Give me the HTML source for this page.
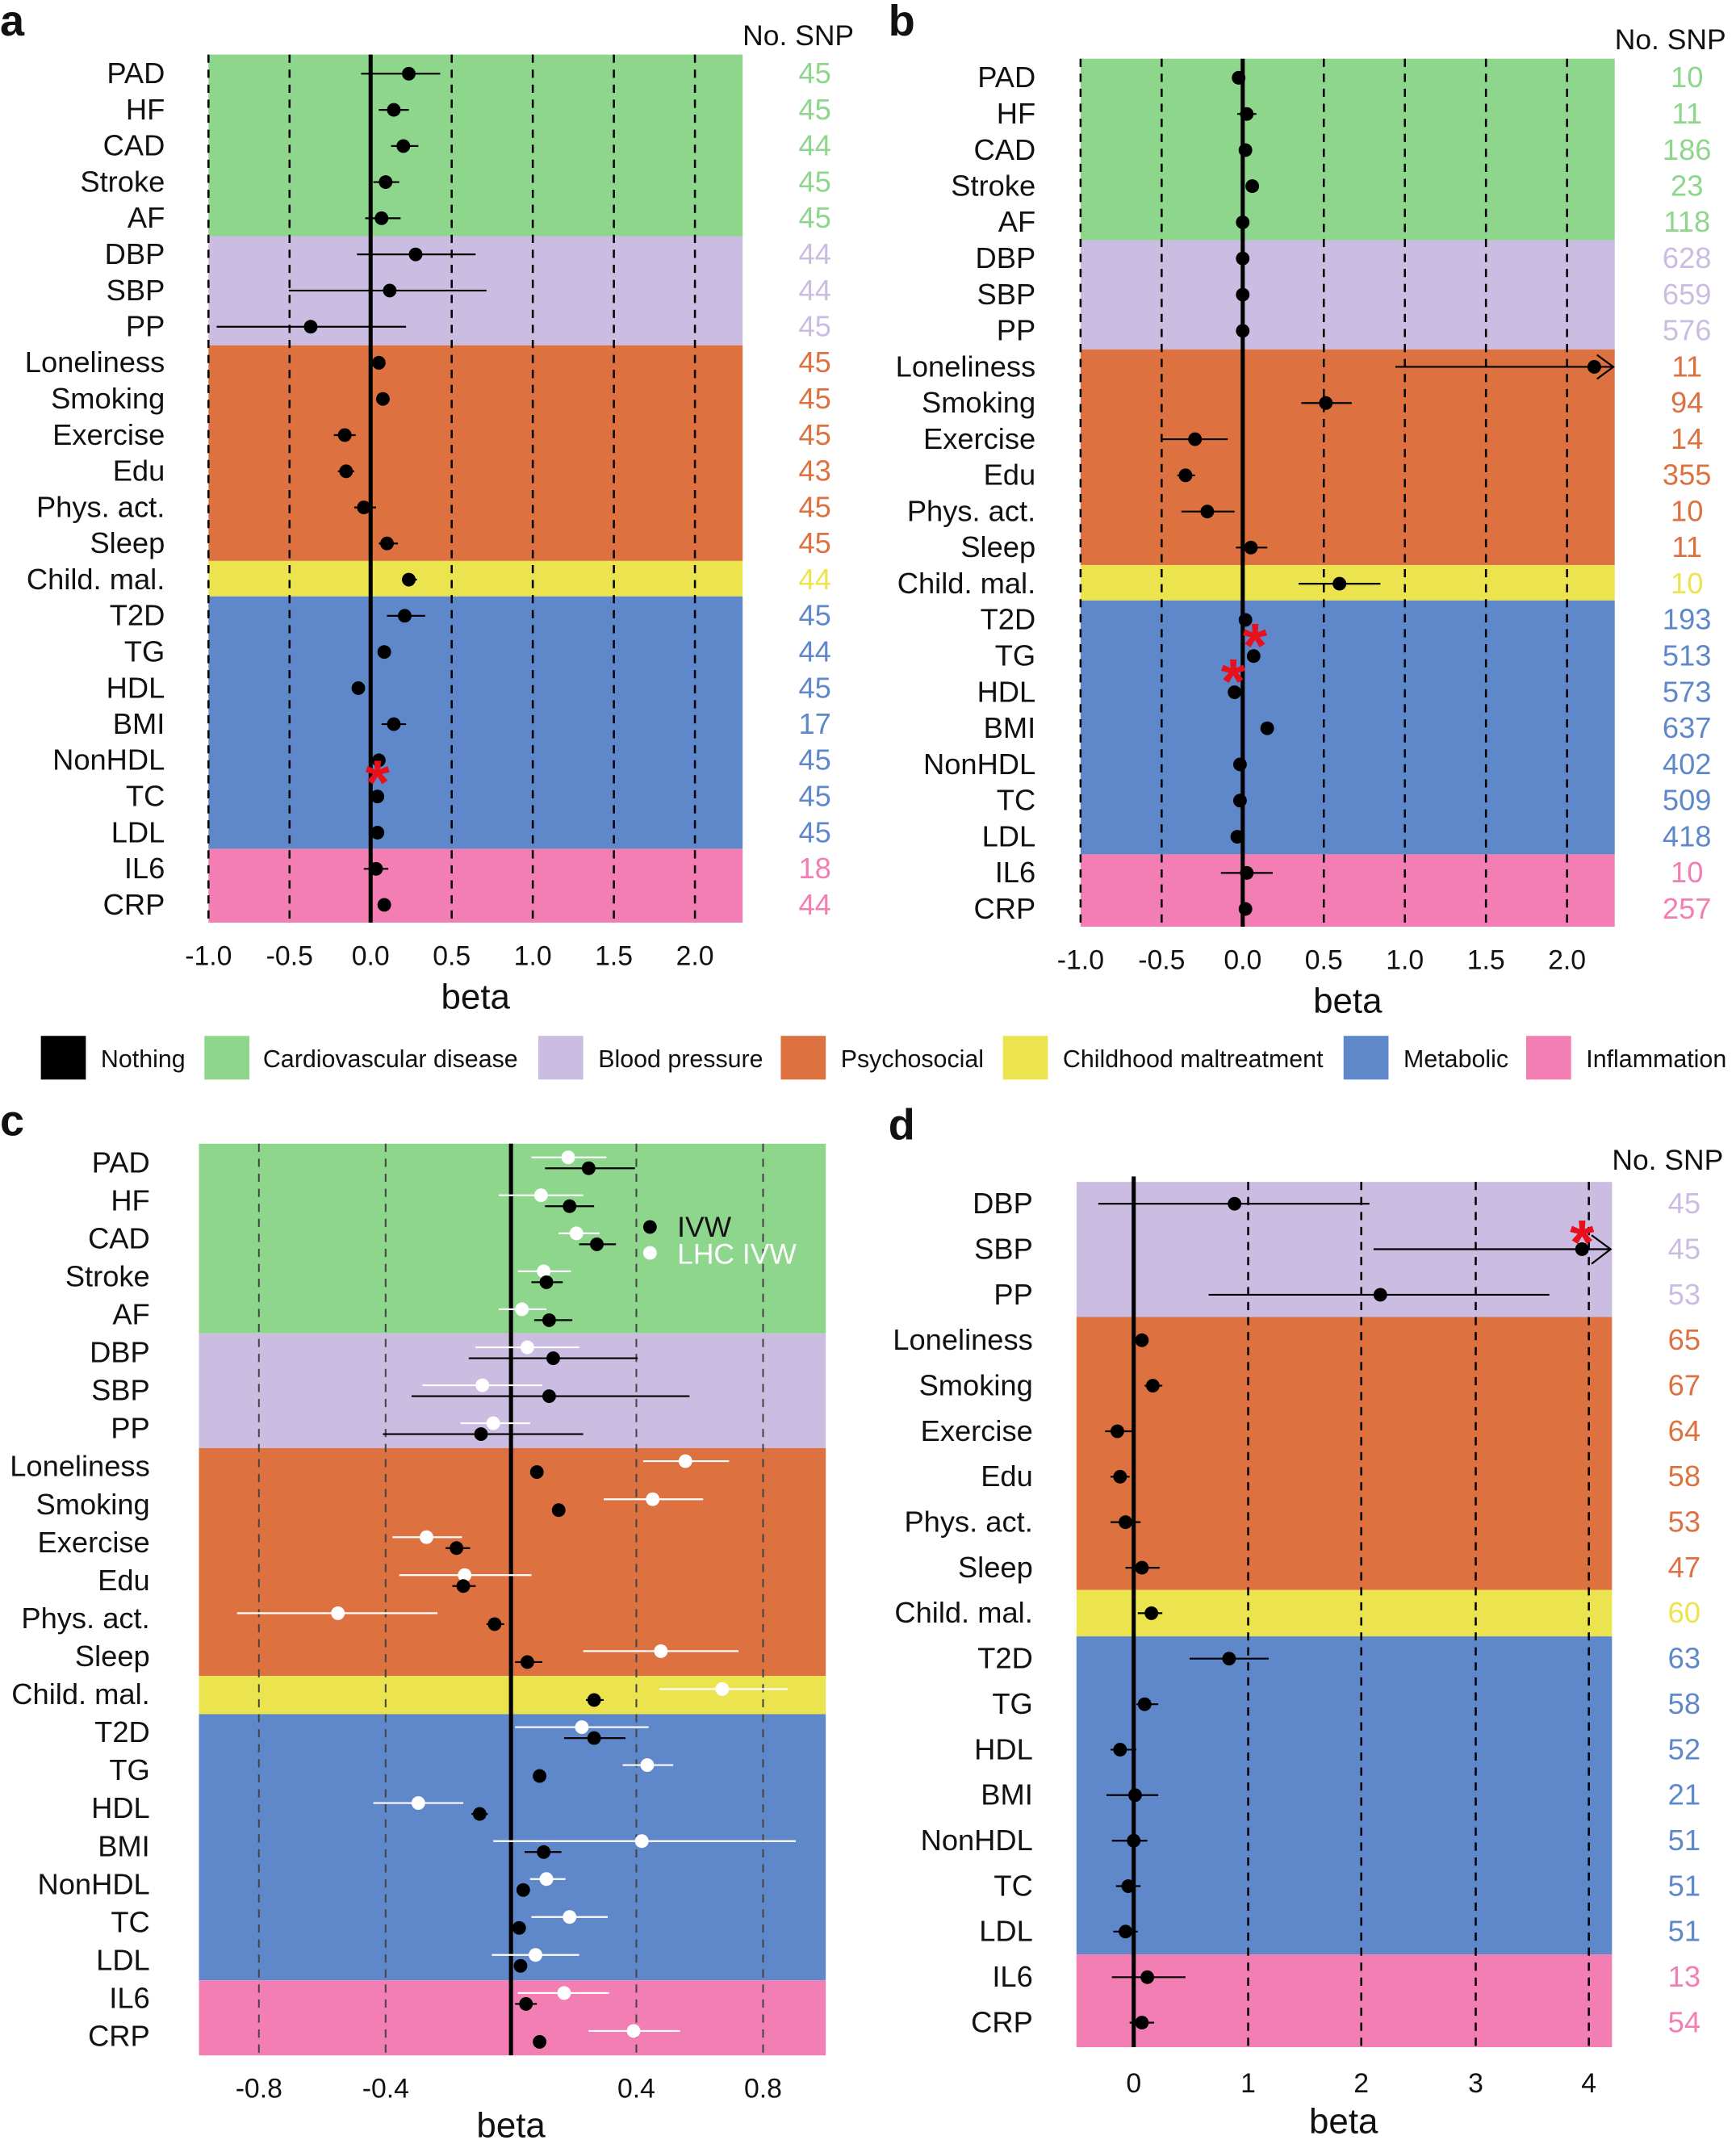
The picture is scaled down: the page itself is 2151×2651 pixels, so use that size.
<!DOCTYPE html>
<html><head><meta charset="utf-8"><style>
html,body{margin:0;padding:0;background:#fff}
svg{display:block}
text{font-family:"Liberation Sans",sans-serif}
.l{font-size:21.5px;text-anchor:end;fill:#111}
.n{font-size:21.5px;text-anchor:middle}
.t{font-size:20px;text-anchor:middle;fill:#111}
.b{font-size:26px;text-anchor:middle;fill:#111}
.h{font-size:21px;fill:#111}
.P{font-size:32px;font-weight:bold;fill:#111}
.g{stroke:#000;stroke-width:1.5;stroke-dasharray:6,5}
.e{stroke:#000;stroke-width:1.3}
.w{stroke:#fff;stroke-width:1.3}
.G{fill:#8dd68c}.V{fill:#cbbde2}.O{fill:#dd7140}.Y{fill:#ece44e}.B{fill:#5f88cb}.K{fill:#f27eb4}
.lg{font-size:18px;fill:#111}
.s{font-size:46px;fill:#e8101a;text-anchor:middle;font-weight:bold}
</style></head><body>
<svg width="2151" height="2651" viewBox="0 0 1274 1568" preserveAspectRatio="none" xmlns="http://www.w3.org/2000/svg">
<!-- PANEL A -->
<text class="P" x="0" y="26">a</text>
<rect class="G" x="153" y="40" width="392" height="133"/>
<rect class="V" x="153" y="173" width="392" height="80"/>
<rect class="O" x="153" y="253" width="392" height="158"/>
<rect class="Y" x="153" y="411" width="392" height="26"/>
<rect class="B" x="153" y="437" width="392" height="185"/>
<rect class="K" x="153" y="622" width="392" height="54"/>
<g class="g"><line x1="153" y1="40" x2="153" y2="676"/><line x1="212.5" y1="40" x2="212.5" y2="676"/><line x1="331.5" y1="40" x2="331.5" y2="676"/><line x1="391" y1="40" x2="391" y2="676"/><line x1="450.5" y1="40" x2="450.5" y2="676"/><line x1="510" y1="40" x2="510" y2="676"/></g>
<line x1="272" y1="40" x2="272" y2="676" stroke="#000" stroke-width="3"/>
<g class="e">
<line x1="265" y1="54" x2="323" y2="54"/><line x1="278" y1="80.5" x2="300" y2="80.5"/><line x1="287" y1="107" x2="307" y2="107"/><line x1="274" y1="133.4" x2="293" y2="133.4"/><line x1="268" y1="159.9" x2="294" y2="159.9"/><line x1="262" y1="186.4" x2="349" y2="186.4"/><line x1="212" y1="212.9" x2="357" y2="212.9"/><line x1="159" y1="239.4" x2="298" y2="239.4"/><line x1="245" y1="318.8" x2="261" y2="318.8"/><line x1="248" y1="345.3" x2="260" y2="345.3"/><line x1="260" y1="371.8" x2="276" y2="371.8"/><line x1="278" y1="398.2" x2="292" y2="398.2"/><line x1="295" y1="424.7" x2="306" y2="424.7"/><line x1="284" y1="451.2" x2="312" y2="451.2"/><line x1="280" y1="530.6" x2="298" y2="530.6"/><line x1="267" y1="636.6" x2="285" y2="636.6"/>
</g>
<g fill="#000">
<circle cx="300" cy="54" r="5"/><circle cx="289" cy="80.5" r="5"/><circle cx="296" cy="107" r="5"/><circle cx="283" cy="133.4" r="5"/><circle cx="280" cy="159.9" r="5"/><circle cx="305" cy="186.4" r="5"/><circle cx="286" cy="212.9" r="5"/><circle cx="228" cy="239.4" r="5"/><circle cx="278" cy="265.8" r="5"/><circle cx="281" cy="292.3" r="5"/><circle cx="253" cy="318.8" r="5"/><circle cx="254" cy="345.3" r="5"/><circle cx="267" cy="371.8" r="5"/><circle cx="284" cy="398.2" r="5"/><circle cx="300" cy="424.7" r="5"/><circle cx="297" cy="451.2" r="5"/><circle cx="282" cy="477.7" r="5"/><circle cx="263" cy="504.2" r="5"/><circle cx="289" cy="530.6" r="5"/><circle cx="278" cy="557.1" r="5"/><circle cx="277" cy="583.6" r="5"/><circle cx="277" cy="610.1" r="5"/><circle cx="276" cy="636.6" r="5"/><circle cx="282" cy="663" r="5"/>
</g>
<text class="s" x="277" y="589">*</text>
<g class="l">
<text x="121" y="61">PAD</text><text x="121" y="87.5">HF</text><text x="121" y="114">CAD</text><text x="121" y="140.4">Stroke</text><text x="121" y="166.9">AF</text><text x="121" y="193.4">DBP</text><text x="121" y="219.9">SBP</text><text x="121" y="246.4">PP</text><text x="121" y="272.8">Loneliness</text><text x="121" y="299.3">Smoking</text><text x="121" y="325.8">Exercise</text><text x="121" y="352.3">Edu</text><text x="121" y="378.8">Phys. act.</text><text x="121" y="405.2">Sleep</text><text x="121" y="431.7">Child. mal.</text><text x="121" y="458.2">T2D</text><text x="121" y="484.7">TG</text><text x="121" y="511.2">HDL</text><text x="121" y="537.6">BMI</text><text x="121" y="564.1">NonHDL</text><text x="121" y="590.6">TC</text><text x="121" y="617.1">LDL</text><text x="121" y="643.6">IL6</text><text x="121" y="670">CRP</text>
</g>
<text class="h" x="545" y="33">No. SNP</text>
<g class="n">
<text x="598" y="61" fill="#8dd68c">45</text><text x="598" y="87.5" fill="#8dd68c">45</text><text x="598" y="114" fill="#8dd68c">44</text><text x="598" y="140.4" fill="#8dd68c">45</text><text x="598" y="166.9" fill="#8dd68c">45</text><text x="598" y="193.4" fill="#cbbde2">44</text><text x="598" y="219.9" fill="#cbbde2">44</text><text x="598" y="246.4" fill="#cbbde2">45</text><text x="598" y="272.8" fill="#dd7140">45</text><text x="598" y="299.3" fill="#dd7140">45</text><text x="598" y="325.8" fill="#dd7140">45</text><text x="598" y="352.3" fill="#dd7140">43</text><text x="598" y="378.8" fill="#dd7140">45</text><text x="598" y="405.2" fill="#dd7140">45</text><text x="598" y="431.7" fill="#ece44e">44</text><text x="598" y="458.2" fill="#5f88cb">45</text><text x="598" y="484.7" fill="#5f88cb">44</text><text x="598" y="511.2" fill="#5f88cb">45</text><text x="598" y="537.6" fill="#5f88cb">17</text><text x="598" y="564.1" fill="#5f88cb">45</text><text x="598" y="590.6" fill="#5f88cb">45</text><text x="598" y="617.1" fill="#5f88cb">45</text><text x="598" y="643.6" fill="#f27eb4">18</text><text x="598" y="670" fill="#f27eb4">44</text>
</g>
<g class="t"><text x="153" y="707">-1.0</text><text x="212.5" y="707">-0.5</text><text x="272" y="707">0.0</text><text x="331.5" y="707">0.5</text><text x="391" y="707">1.0</text><text x="450.5" y="707">1.5</text><text x="510" y="707">2.0</text></g>
<text class="b" x="349" y="739">beta</text>

<!-- PANEL B -->
<text class="P" x="652" y="26">b</text>
<rect class="G" x="793" y="43" width="392" height="133"/>
<rect class="V" x="793" y="176" width="392" height="80"/>
<rect class="O" x="793" y="256" width="392" height="158"/>
<rect class="Y" x="793" y="414" width="392" height="26"/>
<rect class="B" x="793" y="440" width="392" height="186"/>
<rect class="K" x="793" y="626" width="392" height="53"/>
<g class="g"><line x1="793" y1="43" x2="793" y2="679"/><line x1="852.5" y1="43" x2="852.5" y2="679"/><line x1="971.5" y1="43" x2="971.5" y2="679"/><line x1="1031" y1="43" x2="1031" y2="679"/><line x1="1090.5" y1="43" x2="1090.5" y2="679"/><line x1="1150" y1="43" x2="1150" y2="679"/></g>
<line x1="912" y1="43" x2="912" y2="679" stroke="#000" stroke-width="3"/>
<g class="e">
<line x1="908" y1="83.5" x2="922" y2="83.5"/><line x1="1024" y1="268.8" x2="1184" y2="268.8"/><polyline points="1172,260 1184,268.8 1172,277.6" fill="none"/><line x1="955" y1="295.3" x2="992" y2="295.3"/><line x1="852" y1="321.8" x2="901" y2="321.8"/><line x1="864" y1="348.3" x2="877" y2="348.3"/><line x1="867" y1="374.8" x2="906" y2="374.8"/><line x1="907" y1="401.2" x2="930" y2="401.2"/><line x1="953" y1="427.7" x2="1013" y2="427.7"/><line x1="896" y1="639.6" x2="934" y2="639.6"/>
</g>
<g fill="#000">
<circle cx="909" cy="57" r="5"/><circle cx="915" cy="83.5" r="5"/><circle cx="914" cy="110" r="5"/><circle cx="919" cy="136.4" r="5"/><circle cx="912" cy="162.9" r="5"/><circle cx="912" cy="189.4" r="5"/><circle cx="912" cy="215.9" r="5"/><circle cx="912" cy="242.4" r="5"/><circle cx="1170" cy="268.8" r="5"/><circle cx="973" cy="295.3" r="5"/><circle cx="877" cy="321.8" r="5"/><circle cx="870" cy="348.3" r="5"/><circle cx="886" cy="374.8" r="5"/><circle cx="918" cy="401.2" r="5"/><circle cx="983" cy="427.7" r="5"/><circle cx="914" cy="454.2" r="5"/><circle cx="920" cy="480.7" r="5"/><circle cx="906" cy="507.2" r="5"/><circle cx="930" cy="533.6" r="5"/><circle cx="910" cy="560.1" r="5"/><circle cx="910" cy="586.6" r="5"/><circle cx="908" cy="613.1" r="5"/><circle cx="915" cy="639.6" r="5"/><circle cx="914" cy="666" r="5"/>
</g>
<text class="s" x="921" y="489">*</text>
<text class="s" x="905" y="515">*</text>
<g class="l">
<text x="760" y="64">PAD</text><text x="760" y="90.5">HF</text><text x="760" y="117">CAD</text><text x="760" y="143.4">Stroke</text><text x="760" y="169.9">AF</text><text x="760" y="196.4">DBP</text><text x="760" y="222.9">SBP</text><text x="760" y="249.4">PP</text><text x="760" y="275.8">Loneliness</text><text x="760" y="302.3">Smoking</text><text x="760" y="328.8">Exercise</text><text x="760" y="355.3">Edu</text><text x="760" y="381.8">Phys. act.</text><text x="760" y="408.2">Sleep</text><text x="760" y="434.7">Child. mal.</text><text x="760" y="461.2">T2D</text><text x="760" y="487.7">TG</text><text x="760" y="514.2">HDL</text><text x="760" y="540.6">BMI</text><text x="760" y="567.1">NonHDL</text><text x="760" y="593.6">TC</text><text x="760" y="620.1">LDL</text><text x="760" y="646.6">IL6</text><text x="760" y="673">CRP</text>
</g>
<text class="h" x="1185" y="36">No. SNP</text>
<g class="n">
<text x="1238" y="64" fill="#8dd68c">10</text><text x="1238" y="90.5" fill="#8dd68c">11</text><text x="1238" y="117" fill="#8dd68c">186</text><text x="1238" y="143.4" fill="#8dd68c">23</text><text x="1238" y="169.9" fill="#8dd68c">118</text><text x="1238" y="196.4" fill="#cbbde2">628</text><text x="1238" y="222.9" fill="#cbbde2">659</text><text x="1238" y="249.4" fill="#cbbde2">576</text><text x="1238" y="275.8" fill="#dd7140">11</text><text x="1238" y="302.3" fill="#dd7140">94</text><text x="1238" y="328.8" fill="#dd7140">14</text><text x="1238" y="355.3" fill="#dd7140">355</text><text x="1238" y="381.8" fill="#dd7140">10</text><text x="1238" y="408.2" fill="#dd7140">11</text><text x="1238" y="434.7" fill="#ece44e">10</text><text x="1238" y="461.2" fill="#5f88cb">193</text><text x="1238" y="487.7" fill="#5f88cb">513</text><text x="1238" y="514.2" fill="#5f88cb">573</text><text x="1238" y="540.6" fill="#5f88cb">637</text><text x="1238" y="567.1" fill="#5f88cb">402</text><text x="1238" y="593.6" fill="#5f88cb">509</text><text x="1238" y="620.1" fill="#5f88cb">418</text><text x="1238" y="646.6" fill="#f27eb4">10</text><text x="1238" y="673" fill="#f27eb4">257</text>
</g>
<g class="t"><text x="793" y="710">-1.0</text><text x="852.5" y="710">-0.5</text><text x="912" y="710">0.0</text><text x="971.5" y="710">0.5</text><text x="1031" y="710">1.0</text><text x="1090.5" y="710">1.5</text><text x="1150" y="710">2.0</text></g>
<text class="b" x="989" y="742">beta</text>

<!-- LEGEND -->
<rect x="30" y="759" width="33" height="32" fill="#000"/><text class="lg" x="74" y="782">Nothing</text>
<rect class="G" x="150" y="759" width="33" height="32"/><text class="lg" x="193" y="782">Cardiovascular disease</text>
<rect class="V" x="395" y="759" width="33" height="32"/><text class="lg" x="439" y="782">Blood pressure</text>
<rect class="O" x="573" y="759" width="33" height="32"/><text class="lg" x="617" y="782">Psychosocial</text>
<rect class="Y" x="736" y="759" width="33" height="32"/><text class="lg" x="780" y="782">Childhood maltreatment</text>
<rect class="B" x="986" y="759" width="33" height="32"/><text class="lg" x="1030" y="782">Metabolic</text>
<rect class="K" x="1120" y="759" width="33" height="32"/><text class="lg" x="1164" y="782">Inflammation</text>

<!-- PANEL C -->
<text class="P" x="0" y="832">c</text>
<rect class="G" x="146" y="838" width="460" height="139"/>
<rect class="V" x="146" y="977" width="460" height="84"/>
<rect class="O" x="146" y="1061" width="460" height="167"/>
<rect class="Y" x="146" y="1228" width="460" height="28"/>
<rect class="B" x="146" y="1256" width="460" height="195"/>
<rect class="K" x="146" y="1451" width="460" height="55"/>
<g class="g" style="stroke:#444;stroke-width:1.2"><line x1="190" y1="838" x2="190" y2="1506"/><line x1="283" y1="838" x2="283" y2="1506"/><line x1="467" y1="838" x2="467" y2="1506"/><line x1="560" y1="838" x2="560" y2="1506"/></g>
<line x1="375" y1="838" x2="375" y2="1506" stroke="#000" stroke-width="3"/>
<g class="w">
<line x1="390" y1="848" x2="445" y2="848"/><line x1="366" y1="875.8" x2="428" y2="875.8"/><line x1="410" y1="903.7" x2="440" y2="903.7"/><line x1="380" y1="931.5" x2="419" y2="931.5"/><line x1="366" y1="959.3" x2="401" y2="959.3"/><line x1="349" y1="987.2" x2="425" y2="987.2"/><line x1="310" y1="1015" x2="398" y2="1015"/><line x1="338" y1="1042.8" x2="389" y2="1042.8"/><line x1="472" y1="1070.6" x2="535" y2="1070.6"/><line x1="443" y1="1098.5" x2="516" y2="1098.5"/><line x1="288" y1="1126.3" x2="339" y2="1126.3"/><line x1="293" y1="1154.1" x2="390" y2="1154.1"/><line x1="174" y1="1182" x2="321" y2="1182"/><line x1="428" y1="1209.8" x2="542" y2="1209.8"/><line x1="484" y1="1237.6" x2="578" y2="1237.6"/><line x1="378" y1="1265.5" x2="476" y2="1265.5"/><line x1="457" y1="1293.3" x2="494" y2="1293.3"/><line x1="274" y1="1321.1" x2="340" y2="1321.1"/><line x1="362" y1="1349" x2="584" y2="1349"/><line x1="389" y1="1376.8" x2="415" y2="1376.8"/><line x1="390" y1="1404.6" x2="446" y2="1404.6"/><line x1="361" y1="1432.4" x2="425" y2="1432.4"/><line x1="380" y1="1460.3" x2="447" y2="1460.3"/><line x1="432" y1="1488.1" x2="499" y2="1488.1"/>
</g>
<g fill="#fff">
<circle cx="417" cy="848" r="5"/><circle cx="397" cy="875.8" r="5"/><circle cx="423" cy="903.7" r="5"/><circle cx="399" cy="931.5" r="5"/><circle cx="383" cy="959.3" r="5"/><circle cx="387" cy="987.2" r="5"/><circle cx="354" cy="1015" r="5"/><circle cx="362" cy="1042.8" r="5"/><circle cx="503" cy="1070.6" r="5"/><circle cx="479" cy="1098.5" r="5"/><circle cx="313" cy="1126.3" r="5"/><circle cx="341" cy="1154.1" r="5"/><circle cx="248" cy="1182" r="5"/><circle cx="485" cy="1209.8" r="5"/><circle cx="530" cy="1237.6" r="5"/><circle cx="427" cy="1265.5" r="5"/><circle cx="475" cy="1293.3" r="5"/><circle cx="307" cy="1321.1" r="5"/><circle cx="471" cy="1349" r="5"/><circle cx="401" cy="1376.8" r="5"/><circle cx="418" cy="1404.6" r="5"/><circle cx="393" cy="1432.4" r="5"/><circle cx="414" cy="1460.3" r="5"/><circle cx="465" cy="1488.1" r="5"/>
</g>
<g class="e">
<line x1="400" y1="856" x2="466" y2="856"/><line x1="400" y1="883.8" x2="436" y2="883.8"/><line x1="425" y1="911.7" x2="452" y2="911.7"/><line x1="390" y1="939.5" x2="413" y2="939.5"/><line x1="392" y1="967.3" x2="420" y2="967.3"/><line x1="344" y1="995.2" x2="468" y2="995.2"/><line x1="302" y1="1023" x2="506" y2="1023"/><line x1="281" y1="1050.8" x2="428" y2="1050.8"/><line x1="327" y1="1134.3" x2="345" y2="1134.3"/><line x1="332" y1="1162.1" x2="349" y2="1162.1"/><line x1="357" y1="1190" x2="370" y2="1190"/><line x1="378" y1="1217.8" x2="398" y2="1217.8"/><line x1="430" y1="1245.6" x2="443" y2="1245.6"/><line x1="414" y1="1273.5" x2="459" y2="1273.5"/><line x1="346" y1="1329.1" x2="358" y2="1329.1"/><line x1="385" y1="1357" x2="412" y2="1357"/><line x1="378" y1="1468.3" x2="394" y2="1468.3"/>
</g>
<g fill="#000">
<circle cx="432" cy="856" r="5"/><circle cx="418" cy="883.8" r="5"/><circle cx="438" cy="911.7" r="5"/><circle cx="401" cy="939.5" r="5"/><circle cx="403" cy="967.3" r="5"/><circle cx="406" cy="995.2" r="5"/><circle cx="403" cy="1023" r="5"/><circle cx="353" cy="1050.8" r="5"/><circle cx="394" cy="1078.6" r="5"/><circle cx="410" cy="1106.5" r="5"/><circle cx="335" cy="1134.3" r="5"/><circle cx="340" cy="1162.1" r="5"/><circle cx="363" cy="1190" r="5"/><circle cx="387" cy="1217.8" r="5"/><circle cx="436" cy="1245.6" r="5"/><circle cx="436" cy="1273.5" r="5"/><circle cx="396" cy="1301.3" r="5"/><circle cx="352" cy="1329.1" r="5"/><circle cx="399" cy="1357" r="5"/><circle cx="384" cy="1384.8" r="5"/><circle cx="381" cy="1412.6" r="5"/><circle cx="382" cy="1440.4" r="5"/><circle cx="386" cy="1468.3" r="5"/><circle cx="396" cy="1496.1" r="5"/>
</g>
<circle cx="477" cy="899" r="5" fill="#000"/><text class="h" x="497" y="906">IVW</text>
<circle cx="477" cy="918" r="5" fill="#fff"/><text x="497" y="926" font-size="21" style="fill:#fff">LHC IVW</text>
<g class="l">
<text x="110" y="859">PAD</text><text x="110" y="886.8">HF</text><text x="110" y="914.7">CAD</text><text x="110" y="942.5">Stroke</text><text x="110" y="970.3">AF</text><text x="110" y="998.2">DBP</text><text x="110" y="1026">SBP</text><text x="110" y="1053.8">PP</text><text x="110" y="1081.6">Loneliness</text><text x="110" y="1109.5">Smoking</text><text x="110" y="1137.3">Exercise</text><text x="110" y="1165.1">Edu</text><text x="110" y="1193">Phys. act.</text><text x="110" y="1220.8">Sleep</text><text x="110" y="1248.6">Child. mal.</text><text x="110" y="1276.5">T2D</text><text x="110" y="1304.3">TG</text><text x="110" y="1332.1">HDL</text><text x="110" y="1360">BMI</text><text x="110" y="1387.8">NonHDL</text><text x="110" y="1415.6">TC</text><text x="110" y="1443.4">LDL</text><text x="110" y="1471.3">IL6</text><text x="110" y="1499.1">CRP</text>
</g>
<g class="t"><text x="190" y="1537">-0.8</text><text x="283" y="1537">-0.4</text><text x="467" y="1537">0.4</text><text x="560" y="1537">0.8</text></g>
<text class="b" x="375" y="1566">beta</text>

<!-- PANEL D -->
<text class="P" x="652" y="835">d</text>
<rect class="V" x="790" y="866" width="393" height="99"/>
<rect class="O" x="790" y="965" width="393" height="200"/>
<rect class="Y" x="790" y="1165" width="393" height="34"/>
<rect class="B" x="790" y="1199" width="393" height="233"/>
<rect class="K" x="790" y="1432" width="393" height="68"/>
<g class="g"><line x1="916" y1="866" x2="916" y2="1500"/><line x1="999" y1="866" x2="999" y2="1500"/><line x1="1083" y1="866" x2="1083" y2="1500"/><line x1="1166" y1="866" x2="1166" y2="1500"/></g>
<line x1="832" y1="862" x2="832" y2="1500" stroke="#000" stroke-width="3"/>
<g class="e">
<line x1="806" y1="882" x2="1005" y2="882"/>
<line x1="1008" y1="915.3" x2="1182" y2="915.3"/><polyline points="1168,905 1182,915.3 1168,926" fill="none"/>
<line x1="887" y1="948.7" x2="1137" y2="948.7"/>
<line x1="840" y1="1015.3" x2="853" y2="1015.3"/>
<line x1="811" y1="1048.7" x2="833" y2="1048.7"/>
<line x1="815" y1="1082" x2="829" y2="1082"/>
<line x1="815" y1="1115.3" x2="837" y2="1115.3"/>
<line x1="826" y1="1148.7" x2="851" y2="1148.7"/>
<line x1="835" y1="1182" x2="853" y2="1182"/>
<line x1="873" y1="1215.3" x2="931" y2="1215.3"/>
<line x1="834" y1="1248.7" x2="850" y2="1248.7"/>
<line x1="815" y1="1282" x2="834" y2="1282"/>
<line x1="812" y1="1315.3" x2="850" y2="1315.3"/>
<line x1="816" y1="1348.7" x2="842" y2="1348.7"/>
<line x1="819" y1="1382" x2="837" y2="1382"/>
<line x1="817" y1="1415.3" x2="835" y2="1415.3"/>
<line x1="816" y1="1448.7" x2="870" y2="1448.7"/>
<line x1="829" y1="1482" x2="847" y2="1482"/>
</g>
<g fill="#000">
<circle cx="906" cy="882" r="5"/><circle cx="1161" cy="915.3" r="5"/><circle cx="1013" cy="948.7" r="5"/><circle cx="838" cy="982" r="5"/><circle cx="846" cy="1015.3" r="5"/><circle cx="820" cy="1048.7" r="5"/><circle cx="822" cy="1082" r="5"/><circle cx="826" cy="1115.3" r="5"/><circle cx="838" cy="1148.7" r="5"/><circle cx="845" cy="1182" r="5"/><circle cx="902" cy="1215.3" r="5"/><circle cx="840" cy="1248.7" r="5"/><circle cx="822" cy="1282" r="5"/><circle cx="833" cy="1315.3" r="5"/><circle cx="832" cy="1348.7" r="5"/><circle cx="828" cy="1382" r="5"/><circle cx="826" cy="1415.3" r="5"/><circle cx="842" cy="1448.7" r="5"/><circle cx="838" cy="1482" r="5"/>
</g>
<text class="s" x="1161" y="926">*</text>
<g class="l">
<text x="758" y="889">DBP</text><text x="758" y="922.3">SBP</text><text x="758" y="955.7">PP</text><text x="758" y="989">Loneliness</text><text x="758" y="1022.3">Smoking</text><text x="758" y="1055.7">Exercise</text><text x="758" y="1089">Edu</text><text x="758" y="1122.3">Phys. act.</text><text x="758" y="1155.7">Sleep</text><text x="758" y="1189">Child. mal.</text><text x="758" y="1222.3">T2D</text><text x="758" y="1255.7">TG</text><text x="758" y="1289">HDL</text><text x="758" y="1322.3">BMI</text><text x="758" y="1355.7">NonHDL</text><text x="758" y="1389">TC</text><text x="758" y="1422.3">LDL</text><text x="758" y="1455.7">IL6</text><text x="758" y="1489">CRP</text>
</g>
<text class="h" x="1183" y="857">No. SNP</text>
<g class="n">
<text x="1236" y="889" fill="#cbbde2">45</text><text x="1236" y="922.3" fill="#cbbde2">45</text><text x="1236" y="955.7" fill="#cbbde2">53</text><text x="1236" y="989" fill="#dd7140">65</text><text x="1236" y="1022.3" fill="#dd7140">67</text><text x="1236" y="1055.7" fill="#dd7140">64</text><text x="1236" y="1089" fill="#dd7140">58</text><text x="1236" y="1122.3" fill="#dd7140">53</text><text x="1236" y="1155.7" fill="#dd7140">47</text><text x="1236" y="1189" fill="#ece44e">60</text><text x="1236" y="1222.3" fill="#5f88cb">63</text><text x="1236" y="1255.7" fill="#5f88cb">58</text><text x="1236" y="1289" fill="#5f88cb">52</text><text x="1236" y="1322.3" fill="#5f88cb">21</text><text x="1236" y="1355.7" fill="#5f88cb">51</text><text x="1236" y="1389" fill="#5f88cb">51</text><text x="1236" y="1422.3" fill="#5f88cb">51</text><text x="1236" y="1455.7" fill="#f27eb4">13</text><text x="1236" y="1489" fill="#f27eb4">54</text>
</g>
<g class="t"><text x="832" y="1533">0</text><text x="916" y="1533">1</text><text x="999" y="1533">2</text><text x="1083" y="1533">3</text><text x="1166" y="1533">4</text></g>
<text class="b" x="986" y="1563">beta</text>
</svg>
</body></html>
